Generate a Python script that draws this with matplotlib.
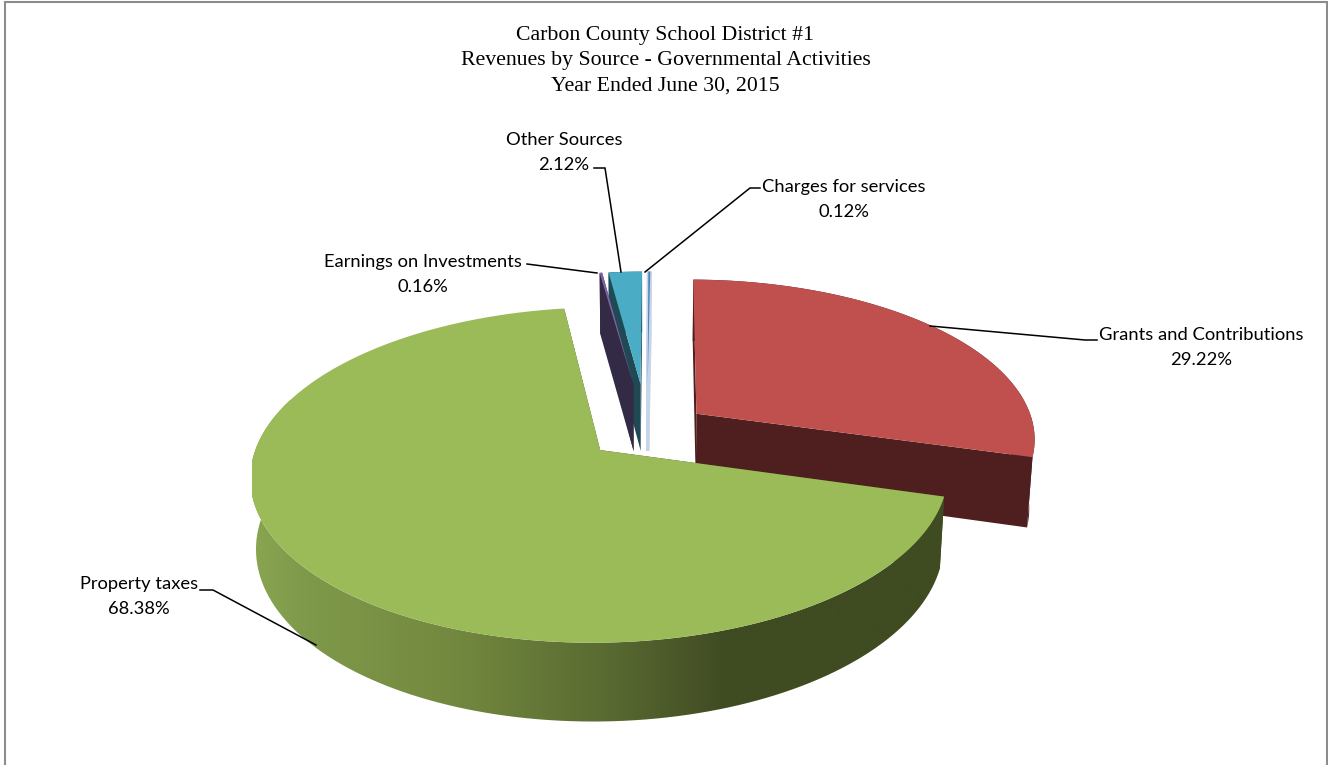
import numpy as np
import matplotlib
matplotlib.use('Agg')
import matplotlib.pyplot as plt
from matplotlib.patches import Polygon, PathPatch, Rectangle
from matplotlib.path import Path
from matplotlib.colors import to_rgb

title_lines = ['Carbon County School District #1',
               'Revenues by Source - Governmental Activities',
               'Year Ended June 30, 2015']

categories = ['Grants and Contributions', 'Property taxes', 'Earnings on Investments',
              'Other Sources', 'Charges for services']
shares = [29.22, 68.38, 0.16, 2.12, 0.12]

top_colors = ['#c0504d', '#9bbb59', '#8064a2', '#4bacc6', '#4f81bd']
wall_colors = ['#4f1e1e', '#3e4a20', '#332a45', '#1f4a55', '#c6d5e8']

# pull out and radius of each slice, in units of the pie radius
explode = [0.185, 0.18, 0.31, 0.31, 0.31]
radius = [1.0, 1.0, 0.87, 0.87, 0.87]
first_angle = 0.6

# projection of the pie plane onto the page (pixels)
ox, oy = 647, 431
sx, sy = 339, 158.4
persp = 0.146
depth_h = 70
depth_c = 0.014

# label text anchor (centre x, first line y) and leader polyline
label_pos = {
    'Grants and Contributions': (1201, 335),
    'Property taxes': (139, 584),
    'Earnings on Investments': (423, 262),
    'Other Sources': (564, 140),
    'Charges for services': (844, 187),
}
leaders = {
    'Grants and Contributions': [(1097, 340), (1085, 340), (930, 326)],
    'Property taxes': [(200, 590), (213, 590), (316, 645)],
    'Earnings on Investments': [(527, 264), (597, 273)],
    'Other Sources': [(594, 168), (605, 168), (621, 272)],
    'Charges for services': [(760, 188), (750, 188), (645, 272)],
}


def project(u, v, z=0.0):
    w = 1 - persp * v + depth_c * z
    return ox + sx * u / w, oy + (sy * v + depth_h * z) / w


def slice_outline(i, start, stop, z=0.0, n=160):
    # apex first, then the arc from start to stop (radians, clockwise from 12 o'clock)
    mid = (start + stop) / 2
    cu, cv = explode[i] * np.sin(mid), -explode[i] * np.cos(mid)
    th = np.linspace(start, stop, n)
    xs, ys = project(cu + radius[i] * np.sin(th), cv - radius[i] * np.cos(th), z)
    ax_, ay_ = project(cu, cv, z)
    return (ax_, ay_), np.column_stack([xs, ys])


fig = plt.figure(figsize=(13.28, 7.65), dpi=100)
ax = fig.add_axes([0, 0, 1, 1])
ax.set_xlim(0, 1328)
ax.set_ylim(765, 0)
ax.axis('off')

# chart frame, runs off the bottom of the page
ax.plot([4.8, 4.8, 1327, 1327], [770, 2.3, 2.3, 770], color='#8c8c8c', lw=1.5, solid_joinstyle='miter')

# the plot area stops the pie on its left side
plot_area = Rectangle((252, 0), 1076, 765, transform=ax.transData)

angles = np.deg2rad(first_angle + np.concatenate([[0], np.cumsum(shares)]) * 3.6)

# back slices first, the big ones sit in front
for i in [4, 3, 2, 0, 1]:
    start, stop = angles[i], angles[i + 1]
    apex_t, arc_t = slice_outline(i, start, stop)
    apex_b, arc_b = slice_outline(i, start, stop, z=1.0)

    # charges slice is so thin it only shows as a pale band
    edge = wall_colors[i] if i == 4 else 'none'

    # the two cut faces
    for end in [0, -1]:
        ax.add_patch(Polygon([apex_t, arc_t[end], arc_b[end], apex_b], closed=True,
                             fc=wall_colors[i], ec=edge, lw=2.2))

    # outer wall
    wall = np.vstack([arc_t, arc_b[::-1]])
    if i == 1:
        # property taxes wall is shaded from light on the left to dark on the right
        patch = PathPatch(Path(np.vstack([wall, wall[0]])), fc='none', ec='none')
        ax.add_patch(patch)
        stops_x = [252, 300, 450, 600, 700, 724, 946]
        stops_c = ['#8aa651', '#7f9a4a', '#74893f', '#5a6c32', '#465226', '#3f4b21', '#3f4b21']
        rgb = np.array([to_rgb(c) for c in stops_c])
        grid = np.arange(252, 947)
        ramp = np.stack([np.interp(grid, stops_x, rgb[:, k]) for k in range(3)], axis=-1)[None, :, :]
        im = ax.imshow(ramp, extent=[252, 946, 740, 400], aspect='auto', zorder=1.5)
        im.set_clip_path(patch)
        ax.set_xlim(0, 1328)
        ax.set_ylim(765, 0)
    else:
        ax.add_patch(Polygon(wall, closed=True, fc=wall_colors[i], ec='none'))

    top = Polygon(np.vstack([[apex_t], arc_t]), closed=True, fc=top_colors[i], ec='none', zorder=2)
    ax.add_patch(top)
    top.set_clip_path(plot_area)

for name, share in zip(categories, shares):
    x, y = label_pos[name]
    ax.text(x, y, name, ha='center', va='center', family='Lato', fontsize=13.2, color='black')
    ax.text(x, y + 24.5, f'{share:.2f}%', ha='center', va='center', family='Lato', fontsize=13.2,
            color='black')
    pts = np.array(leaders[name])
    ax.plot(pts[:, 0], pts[:, 1], color='black', lw=1.1, zorder=3, solid_joinstyle='miter')

for line, y in zip(title_lines, [35.5, 60.5, 86.5]):
    ax.text(665.5, y, line, ha='center', va='center', family='Liberation Serif', fontsize=15.7,
            color='black')

fig.savefig('out.png', dpi=100)
